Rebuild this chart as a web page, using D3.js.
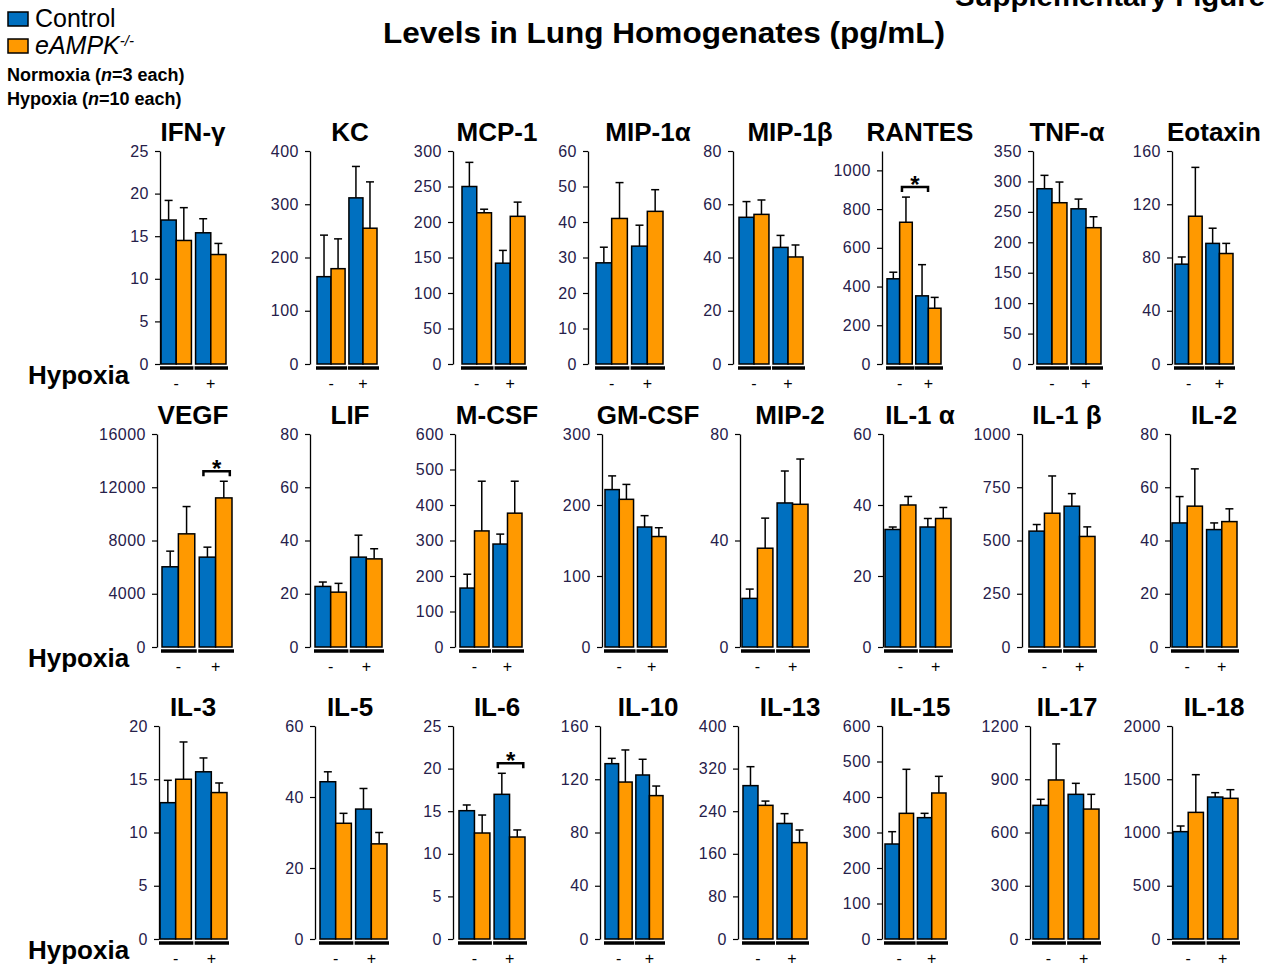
<!DOCTYPE html>
<html>
<head>
<meta charset="utf-8">
<script src="https://cdn.jsdelivr.net/npm/d3@7"></script>
<style>
  body { margin: 0; background: #fff; }
  svg text { font-family: "Liberation Sans", Arial, sans-serif; }
</style>
</head>
<body>
<div id="chart"></div>
<script>
// cytokine panels, left to right, top to bottom
const cytokines = ["IFN-γ", "KC", "MCP-1", "MIP-1α", "MIP-1β", "RANTES", "TNF-α", "Eotaxin",
                   "VEGF", "LIF", "M-CSF", "GM-CSF", "MIP-2", "IL-1 α", "IL-1 β", "IL-2",
                   "IL-3", "IL-5", "IL-6", "IL-10", "IL-13", "IL-15", "IL-17", "IL-18"];
const conditions = ["Normoxia", "Hypoxia"];
const conditionLabels = ["-", "+"];
const genotypes = ["Control", "eAMPK"];

// means (pg/mL)
const ctrlNormoxia = [16.9, 164, 250, 28.5, 55.1, 440, 288, 75,
                      6025, 22.75, 166, 221.7, 18.25, 33.1, 544, 46.6,
                      12.8, 44.3, 15.06, 131.7, 288, 267.6, 753, 1008];
const koNormoxia   = [14.5, 179, 213, 41, 56.2, 732, 265, 111,
                      8500, 20.6, 327, 208, 37.1, 40, 628, 52.9,
                      15, 32.6, 12.44, 117.9, 251, 354, 896, 1189];
const ctrlHypoxia  = [15.4, 312, 142, 33.2, 43.8, 352, 255, 90.6,
                      6750, 33.75, 290, 169, 54.1, 33.8, 661, 44.1,
                      15.7, 36.6, 16.98, 123.2, 217, 341.8, 815, 1333];
const koHypoxia    = [12.85, 255, 208, 43, 40.2, 288, 224, 83,
                      11200, 33.1, 377, 155.6, 53.6, 36.2, 519, 47.1,
                      13.75, 26.8, 11.97, 107.7, 181, 411.3, 732, 1321];

// SEM (upper whisker length)
const ctrlNormoxiaSem = [2.3, 78, 34, 4.4, 5.9, 34, 22, 5.4,
                         1175, 1.65, 39, 19.3, 3.5, 0.7, 31, 9.9,
                         2.1, 2.8, 0.67, 4, 35.6, 34.7, 34, 53];
const koNormoxiaSem   = [3.85, 56, 5, 10.1, 5.4, 130, 34, 36.7,
                         2050, 3.3, 140, 21, 11.3, 2.4, 175, 14,
                         3.5, 2.8, 2.11, 24.1, 8, 124, 203, 354];
const ctrlHypoxiaSem  = [1.65, 59, 18, 5.9, 4.5, 161, 16, 11.4,
                         750, 8.25, 28, 16, 12, 2.4, 59, 2.5,
                         1.3, 5.8, 2.47, 11.8, 18.4, 12.2, 62, 41];
const koHypoxiaSem    = [1.3, 87, 20, 6.1, 4.5, 56, 18, 7.6,
                         1250, 3.8, 90, 12.4, 17, 3.1, 45, 4.8,
                         0.9, 3.2, 0.83, 7.2, 23.7, 46.9, 83, 81];

// y axis extent and tick step per panel
const yMax     = [25, 400, 300, 60, 80, 1100, 350, 160,
                  16000, 80, 600, 300, 80, 60, 1000, 80,
                  20, 60, 25, 160, 400, 600, 1200, 2000];
const tickStep = [5, 100, 50, 10, 20, 200, 50, 40,
                  4000, 20, 100, 100, 40, 20, 250, 20,
                  5, 20, 5, 40, 80, 100, 300, 500];

// significant comparisons: panel, bar indexes (0..3)
const sigPanels = ["RANTES", "VEGF", "IL-6"];
const sigBars = [[1, 2], [2, 3], [2, 3]];

// layout
const rowTop = [151, 434, 726];
const rowBase = [364, 647, 939];
const titleX = [193, 350, 497, 648, 790, 920, 1067, 1214];
const panelX = [
  [160, 161, 226], [310, 317, 377], [453, 462, 525], [588, 596, 663],
  [733, 739, 803], [882, 887, 941], [1033, 1037, 1101], [1172, 1175, 1233],
  [157, 162, 232], [310, 315, 382], [455, 460, 522], [602, 605, 666],
  [740, 742, 808], [883, 885, 951], [1022, 1029, 1095], [1170, 1172, 1237],
  [159, 160, 227], [315, 320, 387], [453, 459, 525], [600, 605, 663],
  [738, 743, 807], [882, 885, 946], [1030, 1033, 1099], [1172, 1173, 1238]
];

const colors = { Control: "#0070C0", eAMPK: "#FF9900" };
const tickColor = "#26204a";

const svg = d3.select("#chart")
  .append("svg")
  .attr("width", 1276)
  .attr("height", 966);

cytokines.forEach((name, i) => {
  const row = Math.floor(i / 8), col = i % 8;
  const [ax, b0, b1] = panelX[i];
  const top = rowTop[row], base = rowBase[row];

  const y = d3.scaleLinear().domain([0, yMax[i]]).range([base, top]);
  const x0 = d3.scaleBand().domain(conditions).range([b0, b1]).paddingInner(0.12);
  const x1 = d3.scaleBand().domain(genotypes).range([0, x0.bandwidth()]);

  const vals = [
    { cond: "Normoxia", gen: "Control", v: ctrlNormoxia[i], e: ctrlNormoxiaSem[i] },
    { cond: "Normoxia", gen: "eAMPK", v: koNormoxia[i], e: koNormoxiaSem[i] },
    { cond: "Hypoxia", gen: "Control", v: ctrlHypoxia[i], e: ctrlHypoxiaSem[i] },
    { cond: "Hypoxia", gen: "eAMPK", v: koHypoxia[i], e: koHypoxiaSem[i] }
  ];
  const cx = d => x0(d.cond) + x1(d.gen) + x1.bandwidth() / 2;

  const g = svg.append("g");

  // whiskers
  g.selectAll(".whisker")
    .data(vals)
    .join("line")
    .attr("x1", cx).attr("x2", cx)
    .attr("y1", d => y(d.v)).attr("y2", d => y(d.v + d.e))
    .attr("stroke", "#000").attr("stroke-width", 1.5);
  g.selectAll(".cap")
    .data(vals)
    .join("line")
    .attr("x1", d => cx(d) - 4).attr("x2", d => cx(d) + 4)
    .attr("y1", d => y(d.v + d.e)).attr("y2", d => y(d.v + d.e))
    .attr("stroke", "#000").attr("stroke-width", 1.5);

  // bars
  g.selectAll(".bar")
    .data(vals)
    .join("rect")
    .attr("x", d => x0(d.cond) + x1(d.gen))
    .attr("y", d => y(d.v))
    .attr("width", x1.bandwidth())
    .attr("height", d => y(0) - y(d.v))
    .attr("fill", d => colors[d.gen])
    .attr("stroke", "#000")
    .attr("stroke-width", 1.5);

  // y axis
  const ticks = d3.range(0, yMax[i] + 1e-9, tickStep[i]);
  const axis = g.append("g")
    .attr("transform", `translate(${ax},0)`)
    .call(d3.axisLeft(y).tickValues(ticks).tickSize(5).tickSizeOuter(0).tickPadding(6).tickFormat(d3.format("d")));
  axis.select(".domain").attr("stroke", "#000").attr("stroke-width", 1.3);
  axis.selectAll(".tick line").attr("stroke", "#000").attr("stroke-width", 1.2);
  axis.selectAll(".tick text")
    .attr("fill", tickColor)
    .style("font-size", "16px")
    .style("letter-spacing", "0.5px")
    .style("font-family", '"Liberation Sans", Arial, sans-serif');

  // condition underlines and -/+ labels
  conditions.forEach((c, k) => {
    g.append("line")
      .attr("x1", x0(c) - 1).attr("x2", x0(c) + x0.bandwidth() + 2)
      .attr("y1", base + 4).attr("y2", base + 4)
      .attr("stroke", "#000").attr("stroke-width", 3.5);
    g.append("text")
      .attr("x", x0(c) + x0.bandwidth() / 2)
      .attr("y", base + 25)
      .attr("text-anchor", "middle")
      .style("font-size", "16px")
      .text(conditionLabels[k]);
  });

  // panel title
  g.append("text")
    .attr("x", titleX[col])
    .attr("y", top - 10)
    .attr("text-anchor", "middle")
    .style("font-size", "26px")
    .style("font-weight", "bold")
    .text(name);

  // significance bracket
  const s = sigPanels.indexOf(name);
  if (s >= 0) {
    const [a, b] = sigBars[s];
    const xa = cx(vals[a]) - 4, xb = cx(vals[b]) + 6;
    const yb = Math.min(y(vals[a].v + vals[a].e), y(vals[b].v + vals[b].e)) - 10;
    g.append("path")
      .attr("d", `M${xa},${yb + 5}V${yb}H${xb}V${yb + 5}`)
      .attr("fill", "none")
      .attr("stroke", "#000")
      .attr("stroke-width", 2.5);
    g.append("text")
      .attr("x", (xa + xb) / 2)
      .attr("y", yb + 6)
      .attr("text-anchor", "middle")
      .style("font-size", "24px")
      .style("font-weight", "bold")
      .text("*");
  }
});

// Hypoxia row labels
rowBase.forEach(b => {
  svg.append("text")
    .attr("x", 28)
    .attr("y", b + 20)
    .style("font-size", "26px")
    .style("font-weight", "bold")
    .text("Hypoxia");
});

// Headline
svg.append("text")
  .attr("x", 383)
  .attr("y", 43)
  .attr("textLength", 562)
  .attr("lengthAdjust", "spacingAndGlyphs")
  .style("font-size", "30px")
  .style("font-weight", "bold")
  .text("Levels in Lung Homogenates (pg/mL)");

// figure label at the top right, cut by the page edge as in the source
svg.append("text")
  .attr("x", 955)
  .attr("y", 6)
  .attr("textLength", 310)
  .attr("lengthAdjust", "spacingAndGlyphs")
  .style("font-size", "28px")
  .style("font-weight", "bold")
  .text("Supplementary Figure");

// Legend
const legend = svg.append("g");
legend.selectAll("rect")
  .data(genotypes)
  .join("rect")
  .attr("x", 8)
  .attr("y", (d, k) => 12 + k * 27)
  .attr("width", 20)
  .attr("height", 14)
  .attr("fill", d => colors[d])
  .attr("stroke", "#000")
  .attr("stroke-width", 1.5);
legend.append("text")
  .attr("x", 35).attr("y", 27)
  .style("font-size", "25px")
  .text("Control");
const ko = legend.append("text")
  .attr("x", 35).attr("y", 54)
  .style("font-size", "25px")
  .style("font-style", "italic");
ko.append("tspan").text("eAMPK");
ko.append("tspan").attr("dy", -8).style("font-size", "15px").text("-/-");

const nLines = [["Normoxia (", "=3 each)"], ["Hypoxia (", "=10 each)"]];
nLines.forEach((p, k) => {
  const t = legend.append("text")
    .attr("x", 7).attr("y", 81 + k * 24)
    .style("font-size", "18px")
    .style("font-weight", "bold");
  t.append("tspan").text(p[0]);
  t.append("tspan").style("font-style", "italic").text("n");
  t.append("tspan").text(p[1]);
});
</script>
</body>
</html>
